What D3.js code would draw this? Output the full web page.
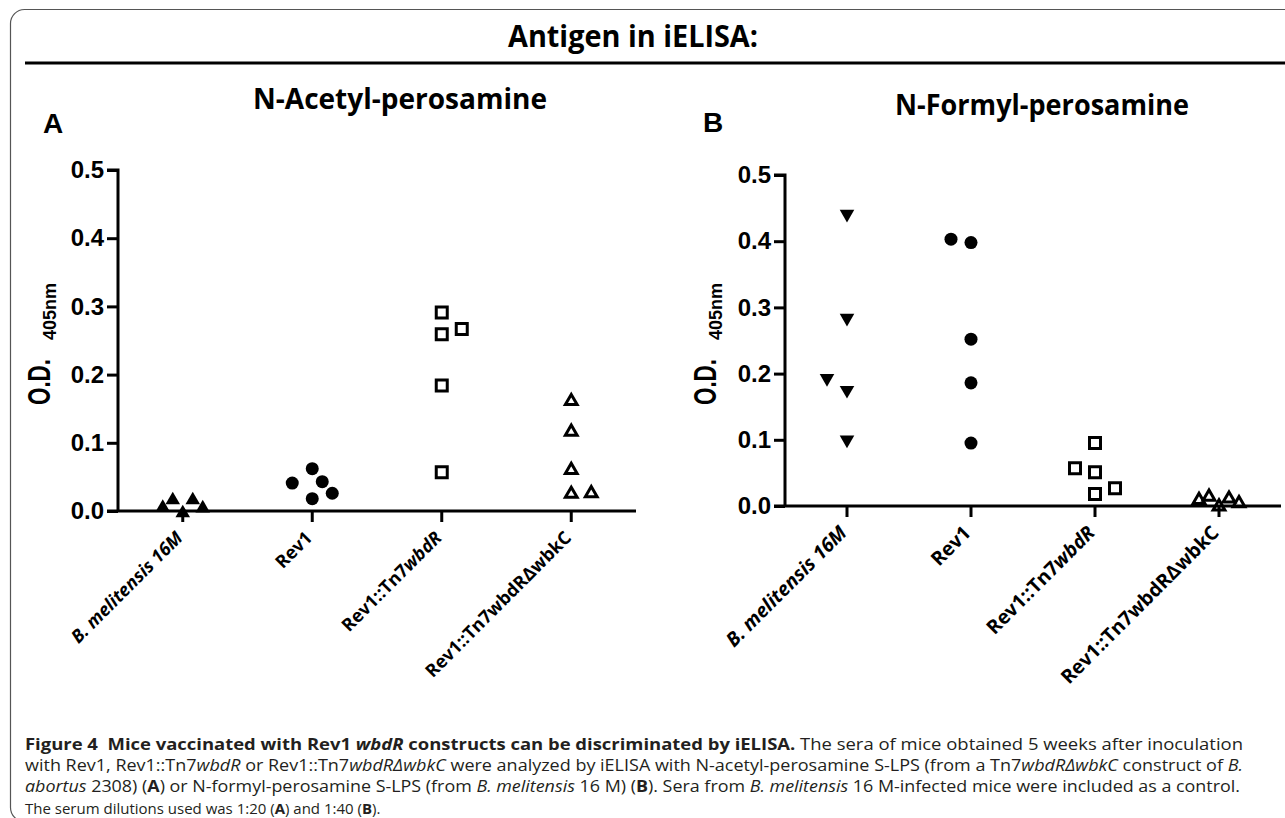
<!DOCTYPE html>
<html>
<head>
<meta charset="utf-8">
<script src="https://cdn.jsdelivr.net/npm/d3@7/dist/d3.min.js"></script>
<style>
  body { margin: 0; background: #fff; }
  svg text { fill: #000; }
</style>
</head>
<body>
<script>
// Size of the whole figure
var width = 1285;
var height = 818;

// Groups on the x axis (same in both panels)
var categories = ["B. melitensis 16M", "Rev1", "Rev1::Tn7wbdR", "Rev1::Tn7wbdRΔwbkC"];
var yTicks = [0.0, 0.1, 0.2, 0.3, 0.4, 0.5];

// Panel A: N-Acetyl-perosamine, O.D. 405nm per mouse
var acetylMel    = [0.005, 0.016, -0.003, 0.016, 0.004];
var acetylRev1   = [0.041, 0.062, 0.043, 0.026, 0.018];
var acetylWbdR   = [0.291, 0.259, 0.267, 0.184, 0.057];
var acetylWbkC   = [0.161, 0.116, 0.060, 0.025, 0.026];
// side-by-side slot of each point (GraphPad spreads overlapping points)
var acetylMelSlot  = [-2, -1, 0, 1, 2];
var acetylRev1Slot = [-2, 0, 1, 2, 0];
var acetylWbdRSlot = [0, 0, 2, 0, 0];
var acetylWbkCSlot = [0, 0, 0, 0, 2];

// Panel B: N-Formyl-perosamine
var formylMel    = [0.441, 0.284, 0.193, 0.175, 0.100];
var formylRev1   = [0.403, 0.398, 0.252, 0.186, 0.095];
var formylWbdR   = [0.095, 0.057, 0.051, 0.027, 0.018];
var formylWbkC   = [0.009, 0.014, -0.001, 0.011, 0.004];
var formylMelSlot  = [0, 0, -2, 0, 0];
var formylRev1Slot = [-2, 0, 0, 0, 0];
var formylWbdRSlot = [0, -2, 0, 2, 0];
var formylWbkCSlot = [-2, -1, 0, 1, 2];

var svg = d3.select("body")
            .append("svg")
            .attr("width", width)
            .attr("height", height);

// Rounded frame around the figure
svg.append("rect")
    .attr("x", 10.5).attr("y", 9.5)
    .attr("width", 1320).attr("height", 812)
    .attr("rx", 14)
    .style("fill", "none")
    .style("stroke", "#555")
    .style("stroke-width", 1.2);

// Header
svg.append("text")
    .attr("x", 633).attr("y", 47)
    .attr("text-anchor", "middle")
    .attr("textLength", 250).attr("lengthAdjust", "spacingAndGlyphs")
    .style("font-family", "'Open Sans'")
    .style("font-weight", 700)
    .style("font-size", "30px")
    .text("Antigen in iELISA:");

svg.append("line")
    .attr("x1", 25).attr("x2", width)
    .attr("y1", 63).attr("y2", 63)
    .style("stroke", "#000")
    .style("stroke-width", 3);

// Marker shapes
function marker(shape) {
    if (shape == "circle") return d3.symbol().type(d3.symbolCircle).size(133)();
    if (shape == "square") return d3.symbol().type(d3.symbolSquare).size(121)();
    if (shape == "triOpen") return d3.symbol().type(d3.symbolTriangle).size(60)();
    return d3.symbol().type(d3.symbolTriangle).size(92)();
}

function drawPanel(p) {
    var x = d3.scaleBand().domain(categories).range([p.left, p.right]);
    var y = d3.scaleLinear().domain([0, 0.5]).range([p.bottom, p.top]);
    var g = svg.append("g");

    // panel letter and title
    g.append("text")
        .attr("x", p.letterX).attr("y", p.letterY)
        .style("font-family", "'Liberation Sans', Arial")
        .style("font-weight", 700)
        .style("font-size", "28px")
        .text(p.letter);

    g.append("text")
        .attr("x", p.titleX).attr("y", p.titleY)
        .attr("text-anchor", "middle")
        .attr("textLength", 294).attr("lengthAdjust", "spacingAndGlyphs")
        .style("font-family", "'Open Sans'")
        .style("font-weight", 700)
        .style("font-size", "28px")
        .text(p.title);

    // y axis
    var yAxis = d3.axisLeft(y)
        .tickValues(yTicks)
        .tickFormat(d3.format(".1f"))
        .tickSize(11)
        .tickPadding(3);
    var ya = g.append("g")
        .attr("transform", "translate(" + p.left + ",0)")
        .call(yAxis);
    ya.select(".domain").attr("d", "M-11," + p.top + "H0V" + p.bottom);

    // x axis
    var xAxis = d3.axisBottom(x).tickSize(11).tickFormat("");
    var xa = g.append("g")
        .attr("transform", "translate(0," + p.bottom + ")")
        .call(xAxis);
    xa.select(".domain").attr("d", "M" + (p.left - 11) + ",0H" + p.right);

    g.selectAll(".domain, .tick line")
        .style("stroke", "#000")
        .style("stroke-width", 3)
        .style("stroke-linecap", "butt");
    ya.selectAll(".tick text")
        .style("font-family", "'Liberation Sans', Arial")
        .style("font-weight", 700)
        .style("font-size", "24px")
        .style("fill", "#000");

    // rotated category labels
    var lab = g.selectAll(".catlabel")
        .data(categories)
        .enter()
        .append("text")
        .attr("class", "catlabel")
        .attr("text-anchor", "end")
        .attr("transform", function(d) {
            return "translate(" + (x(d) + x.bandwidth() / 2 + 1) + "," + (p.bottom + 28) + ") rotate(-45)";
        })
        .style("font-family", "'Open Sans'")
        .style("font-weight", 700)
        .style("font-size", p.labelSize + "px");
    lab.each(function(d, i) {
        var t = d3.select(this);
        if (i == 0) {
            t.append("tspan").style("font-style", "italic").text("B. melitensis 16M");
        } else if (i == 2) {
            t.append("tspan").text("Rev1::Tn7");
            t.append("tspan").style("font-style", "italic").text("wbdR");
        } else {
            t.append("tspan").text(d);
        }
    });

    // y axis title: O.D. with subscript 405nm
    g.append("text")
        .attr("transform", "translate(" + p.labelX + ",405) rotate(-90)")
        .style("font-family", "'Liberation Sans', Arial")
        .style("font-weight", 700)
        .style("font-size", "31px")
        .attr("textLength", 46).attr("lengthAdjust", "spacingAndGlyphs")
        .text("O.D.");
    g.append("text")
        .attr("transform", "translate(" + (p.labelX + 6) + ",340) rotate(-90)")
        .style("font-family", "'Liberation Sans', Arial")
        .style("font-weight", 700)
        .style("font-size", "18px")
        .text("405nm");

    // points
    var slotWidth = 10;
    p.series.forEach(function(s, ci) {
        var cx = x(categories[ci]) + x.bandwidth() / 2;
        var filled = (s.shape == "circle" || s.shape == "triUp" || s.shape == "triDown");
        g.selectAll(null)
            .data(s.values)
            .enter()
            .append("path")
            .attr("d", marker(s.shape))
            .attr("transform", function(d, i) {
                var t = "translate(" + (cx + s.slots[i] * slotWidth) + "," + y(d) + ")";
                if (s.shape == "triDown") t += " rotate(180)";
                return t;
            })
            .style("fill", filled ? "#000" : "none")
            .style("stroke", filled ? "none" : "#000")
            .style("stroke-width", 3)
            .style("stroke-linejoin", "miter");
    });
}

drawPanel({
    letter: "A", letterX: 43, letterY: 133,
    title: "N-Acetyl-perosamine", titleX: 400, titleY: 109,
    left: 118, right: 636, top: 170, bottom: 511, labelX: 50, labelSize: 18,
    series: [
        {values: acetylMel,  slots: acetylMelSlot,  shape: "triUp"},
        {values: acetylRev1, slots: acetylRev1Slot, shape: "circle"},
        {values: acetylWbdR, slots: acetylWbdRSlot, shape: "square"},
        {values: acetylWbkC, slots: acetylWbkCSlot, shape: "triOpen"}
    ]
});

drawPanel({
    letter: "B", letterX: 703, letterY: 132,
    title: "N-Formyl-perosamine", titleX: 1042, titleY: 115,
    left: 785, right: 1281, top: 175, bottom: 506, labelX: 716, labelSize: 19.5,
    series: [
        {values: formylMel,  slots: formylMelSlot,  shape: "triDown"},
        {values: formylRev1, slots: formylRev1Slot, shape: "circle"},
        {values: formylWbdR, slots: formylWbdRSlot, shape: "square"},
        {values: formylWbkC, slots: formylWbkCSlot, shape: "triOpen"}
    ]
});

// Caption, one text element per line
var captionLines = [
    [["Figure 4\u00a0\u00a0Mice vaccinated with Rev1 ", "b"], ["wbdR", "bi"], [" constructs can be discriminated by iELISA.", "b"], [" The sera of mice obtained 5 weeks after inoculation", ""]],
    [["with Rev1, Rev1::Tn7", ""], ["wbdR", "i"], [" or Rev1::Tn7", ""], ["wbdRΔwbkC", "i"], [" were analyzed by iELISA with N-acetyl-perosamine S-LPS (from a Tn7", ""], ["wbdRΔwbkC", "i"], [" construct of ", ""], ["B.", "i"]],
    [["abortus", "i"], [" 2308) (", ""], ["A", "b"], [") or N-formyl-perosamine S-LPS (from ", ""], ["B. melitensis", "i"], [" 16 M) (", ""], ["B", "b"], ["). Sera from ", ""], ["B. melitensis", "i"], [" 16 M-infected mice were included as a control.", ""]],
    [["The serum dilutions used was 1:20 (", ""], ["A", "b"], [") and 1:40 (", ""], ["B", "b"], [").", ""]]
];
// full lines are fitted to the column width; the short last line keeps its own width
var captionWidths = [1218, 1218, 1215, null];

captionLines.forEach(function(line, li) {
    var t = svg.append("text")
        .attr("x", 25)
        .attr("y", 750 + li * 21.2)
        .style("font-family", "'Open Sans'")
        .style("font-size", captionWidths[li] ? "16.5px" : "15px")
        .style("fill", "#231f20");
    if (captionWidths[li]) {
        t.attr("textLength", captionWidths[li]).attr("lengthAdjust", "spacingAndGlyphs");
    }
    line.forEach(function(part) {
        t.append("tspan")
            .style("font-weight", part[1].indexOf("b") >= 0 ? 700 : 400)
            .style("font-style", part[1].indexOf("i") >= 0 ? "italic" : "normal")
            .text(part[0]);
    });
});
</script>
</body>
</html>
